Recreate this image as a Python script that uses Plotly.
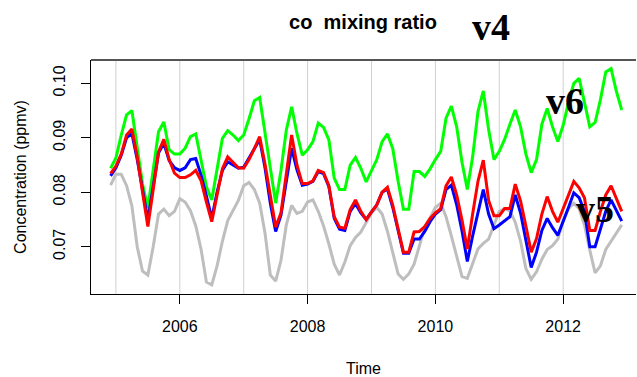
import plotly.graph_objects as go

# ---------------- data (monthly, Dec 2004 .. Dec 2012) ----------------
start_year = 2004
start_month = 12
n_months = 97
time = [start_year + (start_month - 1) / 12 + i / 12 for i in range(n_months)]

gray_series = [
    0.0813, 0.0833, 0.0833, 0.0812, 0.0775, 0.0700, 0.0655, 0.0648, 0.0700, 0.0760,
    0.0769, 0.0757, 0.0765, 0.0788, 0.0782, 0.0766, 0.0738, 0.0695, 0.0635, 0.0630,
    0.0665, 0.0710, 0.0748, 0.0766, 0.0785, 0.0812, 0.0818, 0.0805, 0.0780, 0.0725,
    0.0648, 0.0637, 0.0675, 0.0740, 0.0776, 0.0761, 0.0765, 0.0782, 0.0786, 0.0765,
    0.0738, 0.0705, 0.0668, 0.0648, 0.0672, 0.0702, 0.0717, 0.0727, 0.0744, 0.0762,
    0.0772, 0.0760, 0.0728, 0.0688, 0.0650, 0.0640, 0.0650, 0.0668, 0.0700, 0.0735,
    0.0753, 0.0772, 0.0780, 0.0755, 0.0720, 0.0680, 0.0645, 0.0642, 0.0668, 0.0696,
    0.0706, 0.0714, 0.0740, 0.0765, 0.0770, 0.0766, 0.0745, 0.0710, 0.0660, 0.0640,
    0.0654, 0.0677, 0.0695, 0.0702, 0.0714, 0.0748, 0.0770, 0.0780, 0.0770, 0.0740,
    0.0694, 0.0652, 0.0665, 0.0695, 0.0710, 0.0725, 0.0740,
]

blue_series = [
    0.0830, 0.0845, 0.0868, 0.0900, 0.0908, 0.0860, 0.0805, 0.0749, 0.0810, 0.0872,
    0.0890, 0.0858, 0.0845, 0.0840, 0.0845, 0.0860, 0.0862, 0.0831, 0.0793, 0.0752,
    0.0800, 0.0840, 0.0856, 0.0850, 0.0844, 0.0846, 0.0862, 0.0880, 0.0897, 0.0845,
    0.0780, 0.0728, 0.0758, 0.0820, 0.0881, 0.0841, 0.0813, 0.0815, 0.0820, 0.0838,
    0.0834, 0.0810, 0.0752, 0.0732, 0.0730, 0.0765, 0.0779, 0.0762, 0.0750, 0.0764,
    0.0777, 0.0800, 0.0806, 0.0772, 0.0730, 0.0688, 0.0688, 0.0714, 0.0714, 0.0728,
    0.0746, 0.0760, 0.0768, 0.0805, 0.0813, 0.0777, 0.0729, 0.0673, 0.0720, 0.0765,
    0.0805, 0.0760, 0.0733, 0.0740, 0.0748, 0.0755, 0.0795, 0.0762, 0.0712, 0.0662,
    0.0690, 0.0730, 0.0752, 0.0735, 0.0721, 0.0745, 0.0772, 0.0799, 0.0790, 0.0765,
    0.0700, 0.0700, 0.0735, 0.0765, 0.0786, 0.0765, 0.0747,
]

red_series = [
    0.0834, 0.0848, 0.0870, 0.0905, 0.0916, 0.0865, 0.0800, 0.0737, 0.0805, 0.0874,
    0.0897, 0.0860, 0.0835, 0.0827, 0.0827, 0.0832, 0.0840, 0.0821, 0.0782, 0.0746,
    0.0795, 0.0843, 0.0865, 0.0855, 0.0845, 0.0844, 0.0860, 0.0880, 0.0902, 0.0852,
    0.0790, 0.0736, 0.0762, 0.0830, 0.0905, 0.0850, 0.0816, 0.0816, 0.0821, 0.0840,
    0.0836, 0.0812, 0.0755, 0.0736, 0.0734, 0.0768, 0.0786, 0.0765, 0.0750, 0.0764,
    0.0777, 0.0800, 0.0809, 0.0776, 0.0733, 0.0690, 0.0690, 0.0727, 0.0728, 0.0737,
    0.0752, 0.0762, 0.0770, 0.0812, 0.0828, 0.0795, 0.0749, 0.0696, 0.0760, 0.0820,
    0.0859, 0.0785, 0.0757, 0.0757, 0.0770, 0.0770, 0.0815, 0.0784, 0.0738, 0.0690,
    0.0715, 0.0760, 0.0792, 0.0765, 0.0745, 0.0770, 0.0796, 0.0820, 0.0808, 0.0790,
    0.0730, 0.0730, 0.0765, 0.0795, 0.0812, 0.0790, 0.0765,
]

green_series = [
    0.0844, 0.0863, 0.0905, 0.0942, 0.0950, 0.0885, 0.0815, 0.0771, 0.0840, 0.0911,
    0.0929, 0.0878, 0.0870, 0.0870, 0.0881, 0.0902, 0.0907, 0.0860, 0.0810, 0.0786,
    0.0840, 0.0899, 0.0913, 0.0905, 0.0895, 0.0905, 0.0935, 0.0968, 0.0974, 0.0910,
    0.0846, 0.0780, 0.0840, 0.0914, 0.0957, 0.0908, 0.0868, 0.0878, 0.0893, 0.0927,
    0.0919, 0.0896, 0.0826, 0.0805, 0.0805, 0.0850, 0.0864, 0.0844, 0.0819, 0.0840,
    0.0860, 0.0893, 0.0907, 0.0880, 0.0820, 0.0769, 0.0769, 0.0838, 0.0838, 0.0829,
    0.0843, 0.0860, 0.0875, 0.0936, 0.0958, 0.0920, 0.0855, 0.0805, 0.0865, 0.0948,
    0.0986, 0.0915, 0.0860, 0.0875, 0.0897, 0.0925, 0.0951, 0.0920, 0.0870, 0.0836,
    0.0860, 0.0925, 0.0954, 0.0920, 0.0893, 0.0923, 0.0965, 0.1000, 0.1009, 0.0965,
    0.0920, 0.0928, 0.0970, 0.1021, 0.1027, 0.0985, 0.0951,
]

x_tick_vals = [2006, 2008, 2010, 2012]
x_tick_text = ["2006", "2008", "2010", "2012"]
y_tick_vals = [0.07, 0.08, 0.09, 0.10]
y_tick_text = ["0.07", "0.08", "0.09", "0.10"]
grid_years = [2005, 2006, 2007, 2008, 2009, 2010, 2011, 2012]

title_text = "co&nbsp;&nbsp;mixing ratio"
x_title = "Time"
y_title = "Concentration (ppmv)"

# ---------------- figure ----------------
FONT = "Liberation Sans, Arial, Helvetica, sans-serif"
SERIF = "Liberation Serif, Times New Roman, serif"

fig = go.Figure()
for ys, col in [(gray_series, "#bebebe"), (green_series, "#00ff00"),
                (blue_series, "#0000ff"), (red_series, "#ff0000")]:
    fig.add_trace(go.Scatter(x=time, y=ys, mode="lines",
                             line=dict(color=col, width=3), showlegend=False,
                             hoverinfo="skip"))

shapes = []
for gy in grid_years:
    shapes.append(dict(type="line", xref="x", yref="paper", x0=gy, x1=gy, y0=0, y1=1,
                       line=dict(color="#d0d0d0", width=1), layer="below"))
shapes.append(dict(type="line", xref="paper", yref="paper", x0=0, x1=1, y0=1, y1=1,
                   line=dict(color="#555555", width=2)))

fig.update_layout(
    width=637, height=377,
    margin=dict(l=91, r=1, t=60, b=83, autoexpand=False),
    paper_bgcolor="white", plot_bgcolor="white",
    font=dict(family=FONT, size=16, color="black"),
    shapes=shapes,
    title=dict(text="<b>" + title_text + "</b>", x=363 / 637, y=1 - 22 / 377,
               xanchor="center", yanchor="middle",
               font=dict(family=FONT, size=20, color="black")),
    xaxis=dict(range=[2004.61, 2013.14], tickvals=x_tick_vals, ticktext=x_tick_text,
               ticks="outside", ticklen=9, tickcolor="black", showgrid=False,
               zeroline=False, showline=True, linecolor="black", linewidth=1,
               tickfont=dict(size=16), automargin=False, ticklabelstandoff=9,
               title=dict(text=x_title, standoff=28, font=dict(size=16))),
    yaxis=dict(range=[0.06132, 0.10428], tickvals=y_tick_vals, ticktext=y_tick_text,
               tickangle=-90, ticks="outside", ticklen=9, tickcolor="black",
               showgrid=False, zeroline=False, showline=True, linecolor="black",
               linewidth=1, tickfont=dict(size=16), automargin=False,
               ticklabelstandoff=10,
               title=dict(text=y_title, standoff=19, font=dict(size=16))),
    annotations=[
        dict(text="<b>v4</b>", xref="paper", yref="paper", x=(492 - 91) / 546,
             y=(294 - 27) / 234, showarrow=False, xanchor="center", yanchor="middle",
             font=dict(family=SERIF, size=38, color="black")),
        dict(text="<b>v6</b>", xref="x", yref="y", x=2012.03, y=0.0967,
             showarrow=False, xanchor="center", yanchor="middle",
             font=dict(family=SERIF, size=38, color="black")),
        dict(text="<b>v5</b>", xref="x", yref="y", x=2012.5, y=0.0769,
             showarrow=False, xanchor="center", yanchor="middle",
             font=dict(family=SERIF, size=38, color="black")),
    ],
)

fig.write_html("out.html", config={"displayModeBar": False},
               post_script="document.body.style.margin='0';")
